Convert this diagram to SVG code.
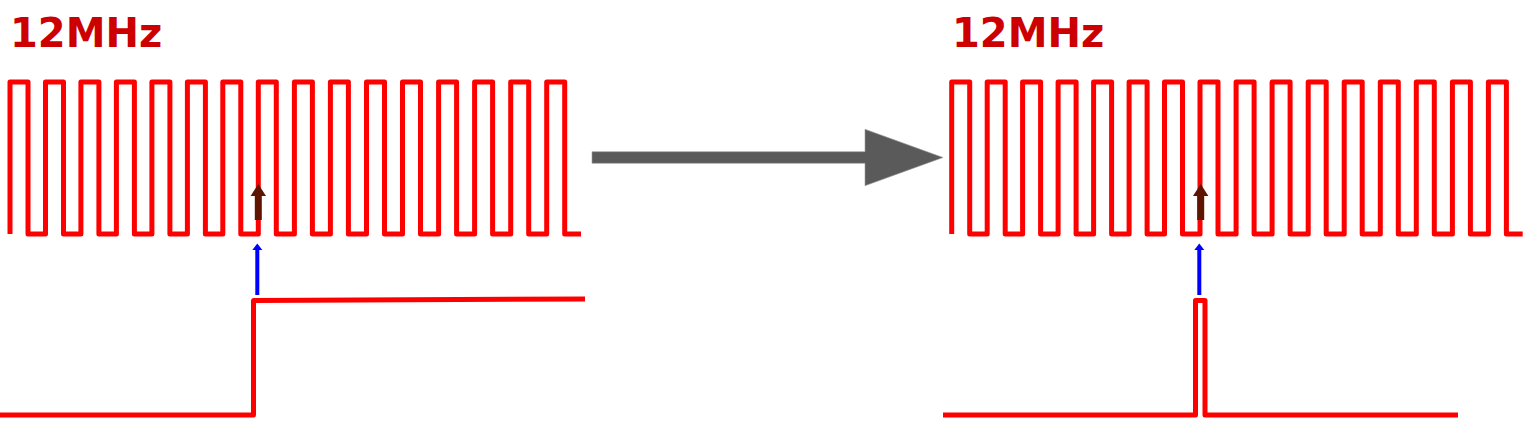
<svg xmlns="http://www.w3.org/2000/svg" xmlns:xlink="http://www.w3.org/1999/xlink" width="1530" height="424" viewBox="0 0 1530 424">
<style>
.sig{fill:none;stroke:#ff0000;stroke-width:5;stroke-linejoin:round}
.lbl{font-family:"DejaVu Sans",Verdana,sans-serif;font-weight:bold;font-size:40px;fill:#cc0000}
.blue{fill:#0000ff}
.brown{fill:#5e1400}
</style>
<defs>
<path id="clk" class="sig" d="M10,234 V82 H28 V234 H45.5 V82 H63.5 V234 H80.9 V82 H98.9 V234 H116.4 V82 H134.4 V234 H151.9 V82 H169.9 V234 H187.4 V82 H205.4 V234 H222.8 V82 H240.8 V234 H258.3 V82 H276.3 V234 H294.4 V82 H312.4 V234 H330.4 V82 H348.4 V234 H366.5 V82 H384.5 V234 H402.5 V82 H420.5 V234 H438.6 V82 H456.6 V234 H474.6 V82 H492.6 V234 H510.7 V82 H528.7 V234 H546.7 V82 H564.7 V234 H581"/>
</defs>
<g id="left">
<text class="lbl" x="10" y="47">12MHz</text>
<use xlink:href="#clk" href="#clk"/>
<path class="sig" d="M0,415 H253.5 V300.5 L585,299"/>
<rect class="blue" x="255.3" y="249" width="4" height="46"/>
<polygon class="blue" points="257.3,243.5 262.3,250 252.3,250"/>
<rect class="brown" x="254.8" y="195" width="7" height="25"/>
<polygon class="brown" points="258.3,184 266,196 250.6,196"/>
</g>
<g id="right">
<text class="lbl" x="952" y="47">12MHz</text>
<use xlink:href="#clk" href="#clk" transform="translate(941.7,0)"/>
<path class="sig" d="M943,415 H1195.5 V300.5 H1205 V415 H1458"/>
<rect class="blue" x="1197.3" y="249" width="4" height="46"/>
<polygon class="blue" points="1199.3,243.5 1204.3,250 1194.3,250"/>
<rect class="brown" x="1197.2" y="195" width="7" height="25"/>
<polygon class="brown" points="1200.7,184 1208.4,196 1193,196"/>
</g>
<g id="connectors">
<polygon fill="#5a5a5a" stroke="#9a9a9a" stroke-width="0.6" points="592,151.7 865,151.7 865,129.3 943,157.5 865,185.7 865,163.3 592,163.3"/>
</g>
</svg>
